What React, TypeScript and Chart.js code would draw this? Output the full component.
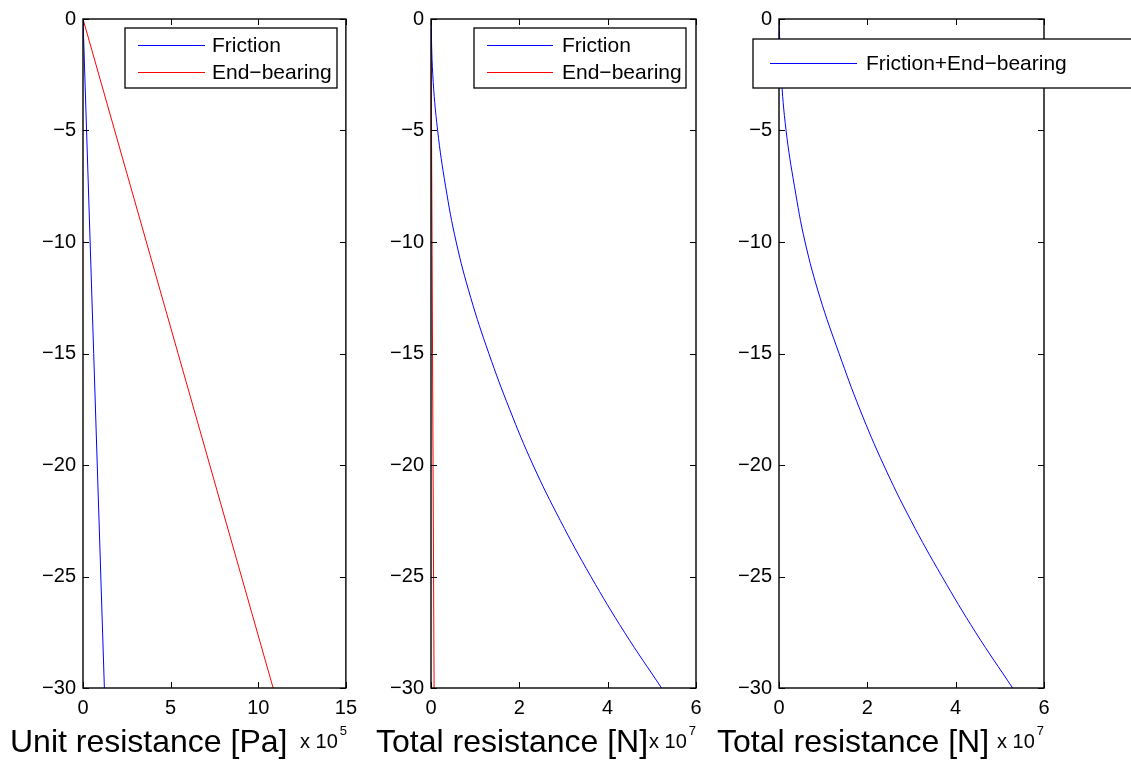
import React, { useEffect, useRef } from "react";
import { Chart, registerables } from "chart.js";

Chart.register(...registerables);

const FONT = "'Liberation Sans', Arial, Helvetica, sans-serif";

// Depth below ground surface [m]
const depthEnds = [0, -30];
const depthSteps = [0, -2.5, -5, -7.5, -10, -12.5, -15, -17.5, -20, -22.5, -25, -27.5, -30];

// Unit resistance [Pa]
const unitFriction = [0, 1.22e5];
const unitEndBearing = [0, 10.85e5];

// Total resistance [N]
const totalFriction = [0, 0.04e7, 0.15e7, 0.33e7, 0.57e7, 0.9e7, 1.31e7, 1.78e7, 2.31e7, 2.93e7, 3.62e7, 4.38e7, 5.22e7];
const totalEndBearing = [0, 0.07e7];
const totalCombined = [0, 0.05e7, 0.16e7, 0.35e7, 0.59e7, 0.93e7, 1.36e7, 1.83e7, 2.37e7, 2.99e7, 3.69e7, 4.45e7, 5.29e7];

// Tick values
const depthTicks = [0, -5, -10, -15, -20, -25, -30];
const unitTicks = [0, 5e5, 10e5, 15e5];
const totalTicks = [0, 2e7, 4e7, 6e7];

const BLUE = "#0000ff";
const RED = "#ff0000";

type Series = { label: string; color: string; depth: number[]; value: number[]; smooth: boolean };

type LegendBox = {
  x0: number; y0: number; x1: number; y1: number;
  lineX0: number; lineX1: number; textX: number; rows: number[];
};

type PanelSpec = {
  left: number; width: number;
  plotLeft: number; plotRight: number;
  xMax: number; xTicks: number[]; exp: number;
  title: string; titleX: number; expX: number;
  series: Series[];
  legend: LegendBox;
};

const panels: PanelSpec[] = [
  {
    left: 0, width: 365, plotLeft: 83, plotRight: 347,
    xMax: 15e5, xTicks: unitTicks, exp: 5,
    title: "Unit resistance [Pa]", titleX: 10, expX: 300,
    series: [
      { label: "Friction", color: BLUE, depth: depthEnds, value: unitFriction, smooth: false },
      { label: "End\u2212bearing", color: RED, depth: depthEnds, value: unitEndBearing, smooth: false },
    ],
    legend: { x0: 125, y0: 28, x1: 337, y1: 88, lineX0: 138, lineX1: 205, textX: 212, rows: [45, 72] },
  },
  {
    left: 365, width: 350, plotLeft: 431, plotRight: 696,
    xMax: 6e7, xTicks: totalTicks, exp: 7,
    title: "Total resistance [N]", titleX: 376, expX: 649,
    series: [
      { label: "Friction", color: BLUE, depth: depthSteps, value: totalFriction, smooth: true },
      { label: "End\u2212bearing", color: RED, depth: depthEnds, value: totalEndBearing, smooth: false },
    ],
    legend: { x0: 474, y0: 28, x1: 686, y1: 88, lineX0: 487, lineX1: 553, textX: 562, rows: [45, 72] },
  },
  {
    left: 715, width: 416, plotLeft: 779, plotRight: 1044,
    xMax: 6e7, xTicks: totalTicks, exp: 7,
    title: "Total resistance [N]", titleX: 717, expX: 997,
    series: [
      { label: "Friction+End\u2212bearing", color: BLUE, depth: depthSteps, value: totalCombined, smooth: true },
    ],
    legend: { x0: 753, y0: 39, x1: 1140, y1: 88, lineX0: 770, lineX1: 857, textX: 866, rows: [63] },
  },
];

const PLOT_TOP = 18;
const PLOT_BOTTOM = 688;
const HEIGHT = 760;
const TICK_LEN = 6;

function makeDecor(p: PanelSpec) {
  return {
    id: "decor",
    afterDatasetsDraw(chart: any) {
      const { ctx, chartArea: a, scales } = chart;
      ctx.save();
      ctx.strokeStyle = "#000";
      ctx.lineWidth = 1;
      ctx.beginPath();
      for (const t of scales.x.ticks) {
        const px = Math.round(scales.x.getPixelForValue(t.value)) + 0.5;
        ctx.moveTo(px, a.bottom);
        ctx.lineTo(px, a.bottom - TICK_LEN);
        ctx.moveTo(px, a.top);
        ctx.lineTo(px, a.top + TICK_LEN);
      }
      for (const t of scales.y.ticks) {
        const py = Math.round(scales.y.getPixelForValue(t.value)) + 0.5;
        ctx.moveTo(a.left, py);
        ctx.lineTo(a.left + TICK_LEN, py);
        ctx.moveTo(a.right, py);
        ctx.lineTo(a.right - TICK_LEN, py);
      }
      ctx.stroke();
      ctx.lineWidth = 1.4;
      ctx.strokeRect(a.left, a.top, a.right - a.left, a.bottom - a.top);
      ctx.restore();
    },
    afterDraw(chart: any) {
      const { ctx } = chart;
      const ox = p.left;
      ctx.save();
      ctx.fillStyle = "#000";
      ctx.textAlign = "left";
      ctx.textBaseline = "alphabetic";

      // axis title and scale exponent
      ctx.font = `32px ${FONT}`;
      ctx.fillText(p.title, p.titleX - ox, 752);
      ctx.font = `20px ${FONT}`;
      ctx.fillText("x 10", p.expX - ox, 748);
      const w = ctx.measureText("x 10").width;
      ctx.font = `13px ${FONT}`;
      ctx.fillText(String(p.exp), p.expX - ox + w + 2, 735);

      // legend box
      const L = p.legend;
      ctx.fillStyle = "#fff";
      ctx.fillRect(L.x0 - ox, L.y0, L.x1 - L.x0, L.y1 - L.y0);
      ctx.strokeStyle = "#000";
      ctx.lineWidth = 1.3;
      ctx.strokeRect(L.x0 - ox, L.y0, L.x1 - L.x0, L.y1 - L.y0);
      ctx.font = `21px ${FONT}`;
      ctx.textBaseline = "middle";
      chart.data.datasets.forEach((ds: any, i: number) => {
        const y = L.rows[i];
        ctx.strokeStyle = ds.borderColor;
        ctx.lineWidth = 1;
        ctx.beginPath();
        ctx.moveTo(L.lineX0 - ox, y + 0.5);
        ctx.lineTo(L.lineX1 - ox, y + 0.5);
        ctx.stroke();
        ctx.fillStyle = "#000";
        ctx.fillText(ds.label, L.textX - ox, y + 1);
      });
      ctx.restore();
    },
  };
}

function Panel({ spec }: { spec: PanelSpec }) {
  const ref = useRef<HTMLCanvasElement>(null);

  useEffect(() => {
    const p = spec;
    const chart = new Chart(ref.current as HTMLCanvasElement, {
      type: "scatter",
      data: {
        datasets: p.series.map((s) => ({
          label: s.label,
          data: s.depth.map((d, i) => ({ x: s.value[i], y: d })),
          showLine: true,
          borderColor: s.color,
          backgroundColor: s.color,
          borderWidth: 1,
          pointRadius: 0,
          tension: s.smooth ? 0.4 : 0,
        })),
      },
      options: {
        animation: false,
        responsive: false,
        devicePixelRatio: 1,
        events: [],
        layout: {
          padding: { top: PLOT_TOP, right: p.left + p.width - p.plotRight, bottom: 0, left: 0 },
        },
        plugins: {
          legend: { display: false },
          tooltip: { enabled: false },
        },
        scales: {
          x: {
            type: "linear",
            min: 0,
            max: p.xMax,
            afterBuildTicks: (s: any) => {
              s.ticks = p.xTicks.map((v) => ({ value: v }));
            },
            afterFit: (s: any) => {
              s.height = HEIGHT - PLOT_BOTTOM;
            },
            grid: { display: false, drawTicks: false },
            border: { display: false },
            ticks: {
              padding: 8,
              color: "#000",
              autoSkip: false,
              maxRotation: 0,
              font: { family: FONT, size: 20 },
              callback: (v: any) => String(Math.round(Number(v) / Math.pow(10, p.exp))),
            },
          },
          y: {
            type: "linear",
            min: -30,
            max: 0,
            afterBuildTicks: (s: any) => {
              s.ticks = depthTicks.map((v) => ({ value: v }));
            },
            afterFit: (s: any) => {
              s.width = p.plotLeft - p.left;
            },
            grid: { display: false, drawTicks: false },
            border: { display: false },
            ticks: {
              padding: 7,
              color: "#000",
              autoSkip: false,
              font: { family: FONT, size: 20 },
              callback: (v: any) => (Number(v) === 0 ? "0" : "\u2212" + Math.abs(Number(v))),
            },
          },
        },
      } as any,
      plugins: [makeDecor(p)],
    });
    return () => chart.destroy();
  }, [spec]);

  return (
    <canvas
      ref={ref}
      width={spec.width}
      height={HEIGHT}
      style={{ position: "absolute", left: spec.left, top: 0, width: spec.width, height: HEIGHT }}
    />
  );
}

export default function App() {
  return (
    <div style={{ position: "fixed", left: 0, top: 0, width: 1131, height: HEIGHT, background: "#fff", overflow: "hidden" }}>
      {panels.map((p, i) => (
        <Panel key={i} spec={p} />
      ))}
    </div>
  );
}
